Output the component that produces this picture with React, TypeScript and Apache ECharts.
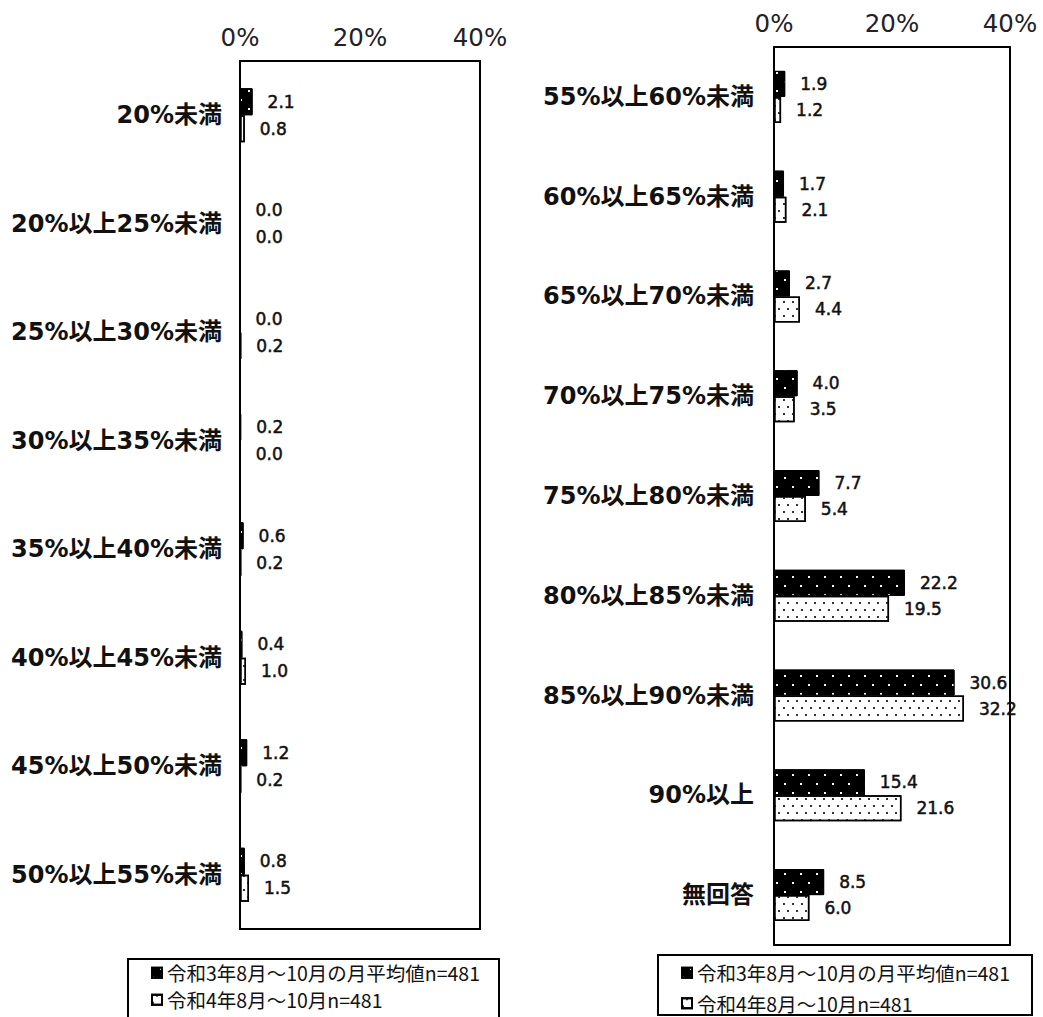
import React, { useEffect, useRef } from "react";
import * as echarts from "echarts";

const leftCategories = [
  "20%未満",
  "20%以上25%未満",
  "25%以上30%未満",
  "30%以上35%未満",
  "35%以上40%未満",
  "40%以上45%未満",
  "45%以上50%未満",
  "50%以上55%未満",
];
const leftR3 = [2.1, 0.0, 0.0, 0.2, 0.6, 0.4, 1.2, 0.8];
const leftR4 = [0.8, 0.0, 0.2, 0.0, 0.2, 1.0, 0.2, 1.5];

const rightCategories = [
  "55%以上60%未満",
  "60%以上65%未満",
  "65%以上70%未満",
  "70%以上75%未満",
  "75%以上80%未満",
  "80%以上85%未満",
  "85%以上90%未満",
  "90%以上",
  "無回答",
];
const rightR3 = [1.9, 1.7, 2.7, 4.0, 7.7, 22.2, 30.6, 15.4, 8.5];
const rightR4 = [1.2, 2.1, 4.4, 3.5, 5.4, 19.5, 32.2, 21.6, 6.0];

const seriesNames = ["令和3年8月～10月の月平均値n=481", "令和4年8月～10月n=481"];
const axisTicks = [0, 20, 40];

const LABEL_FONT = "'DejaVu Sans', 'Noto Sans CJK JP', sans-serif";
const CJK_FONT = "'Noto Sans CJK JP', 'DejaVu Sans', sans-serif";

const blackDecal = {
  symbol: "rect",
  symbolSize: 1,
  color: "#ffffff",
  dashArrayX: [
    [1.5, 13.5],
    [0, 7.5, 1.5, 6],
  ],
  dashArrayY: [1.5, 6.5],
  rotation: 0,
};
const whiteDecal = {
  symbol: "rect",
  symbolSize: 1,
  color: "#333333",
  dashArrayX: [
    [1.2, 6.8],
    [0, 4, 1.2, 2.8],
  ],
  dashArrayY: [1.2, 4.8],
  rotation: 0,
};

function makeSeries(gridIdx: number, r3: number[], r4: number[], barWidth: number) {
  const label = {
    show: true,
    position: "right",
    distance: 15,
    formatter: (p: any) => Number(p.value).toFixed(1),
    fontFamily: LABEL_FONT,
    fontWeight: "normal",
    fontSize: 17,
    color: "#111",
    textBorderColor: "#111",
    textBorderWidth: 0.5,
  };
  return [
    {
      name: seriesNames[0],
      type: "bar",
      xAxisIndex: gridIdx,
      yAxisIndex: gridIdx,
      data: r3,
      barWidth,
      barGap: "0%",
      itemStyle: { color: "#000", borderColor: "#000", borderWidth: 1, decal: blackDecal },
      label,
    },
    {
      name: seriesNames[1],
      type: "bar",
      xAxisIndex: gridIdx,
      yAxisIndex: gridIdx,
      data: r4,
      barWidth,
      barGap: "0%",
      itemStyle: { color: "#fff", borderColor: "#000", borderWidth: 1.5, decal: whiteDecal },
      label,
    },
  ];
}

function xAxisDef(gridIdx: number) {
  return {
    type: "value",
    gridIndex: gridIdx,
    position: "top",
    min: axisTicks[0],
    max: axisTicks[axisTicks.length - 1],
    interval: axisTicks[1] - axisTicks[0],
    axisLine: { show: false },
    axisTick: { show: false },
    splitLine: { show: false },
    axisLabel: {
      formatter: "{value}%",
      fontFamily: LABEL_FONT,
      fontSize: 24.5,
      color: "#222",
      margin: 11,
    },
  };
}

function yAxisDef(gridIdx: number, cats: string[], margin: number) {
  return {
    type: "category",
    gridIndex: gridIdx,
    inverse: true,
    data: cats,
    axisLine: { show: false },
    axisTick: { show: false },
    splitLine: { show: false },
    axisLabel: {
      fontFamily: LABEL_FONT,
      fontWeight: "bold",
      fontSize: 24,
      color: "#111",
      margin,
    },
  };
}

function legendDef(left: number, top: number, gap: number) {
  return {
    left,
    top,
    orient: "vertical",
    selectedMode: false,
    padding: 0,
    itemWidth: 10,
    itemHeight: 10,
    itemGap: gap,
    icon: "rect",
    data: seriesNames,
    textStyle: {
      fontFamily: CJK_FONT,
      fontSize: 19.5,
      lineHeight: 19,
      color: "#111",
    },
  };
}

export default function App() {
  const ref = useRef<HTMLDivElement>(null);
  useEffect(() => {
    if (!ref.current) return;
    const chart = echarts.init(ref.current, undefined, { renderer: "svg" });
    chart.setOption({
      animation: false,
      backgroundColor: "#fff",
      grid: [
        { left: 240, top: 61, width: 240, height: 868, show: true, borderColor: "#000", borderWidth: 2, backgroundColor: "transparent" },
        { left: 774, top: 47, width: 236, height: 898, show: true, borderColor: "#000", borderWidth: 2, backgroundColor: "transparent" },
      ],
      xAxis: [xAxisDef(0), xAxisDef(1)],
      yAxis: [yAxisDef(0, leftCategories, 18), yAxisDef(1, rightCategories, 20)],
      legend: [legendDef(151, 963, 7.5), legendDef(681, 963, 11)],
      graphic: [
        { type: "rect", shape: { x: 128, y: 959, width: 371, height: 70 }, style: { fill: "none", stroke: "#000", lineWidth: 2 }, silent: true },
        { type: "rect", shape: { x: 658, y: 955, width: 374, height: 60 }, style: { fill: "none", stroke: "#000", lineWidth: 2 }, silent: true },
      ],
      series: [
        ...makeSeries(0, leftR3, leftR4, 27),
        ...makeSeries(1, rightR3, rightR4, 26),
      ],
    });
    return () => chart.dispose();
  }, []);
  return (
    <div
      ref={ref}
      style={{ position: "fixed", left: 0, top: 0, width: 1043, height: 1017 }}
    />
  );
}
